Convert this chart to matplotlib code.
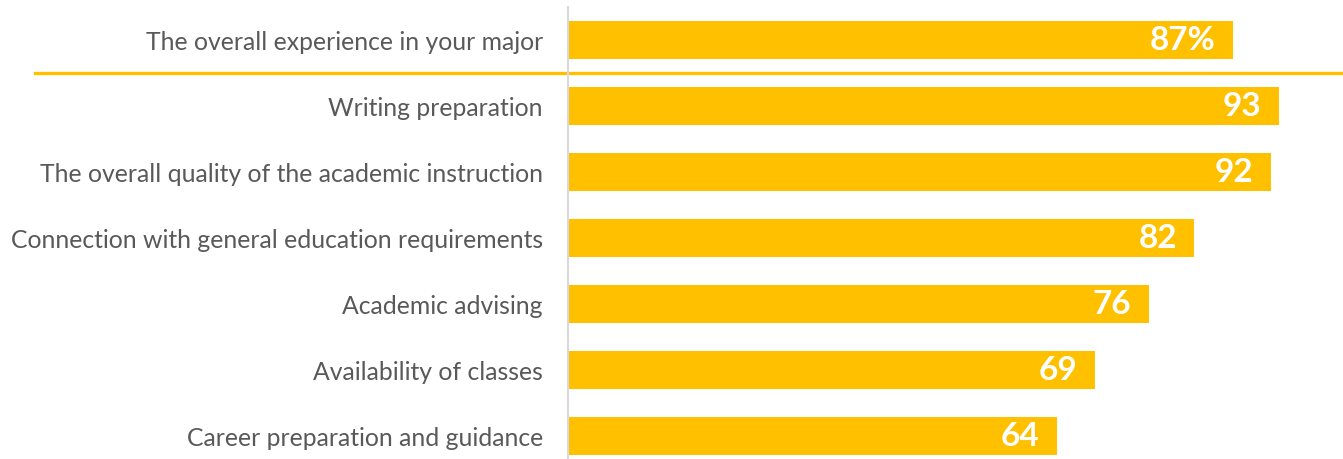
import matplotlib.pyplot as plt

# data
categories = [
    "The overall experience in your major",
    "Writing preparation",
    "The overall quality of the academic instruction",
    "Connection with general education requirements",
    "Academic advising",
    "Availability of classes",
    "Career preparation and guidance",
]
values = [87, 93, 92, 82, 76, 69, 64]
value_labels = ["87%", "93", "92", "82", "76", "69", "64"]

GOLD = "#FFC000"
GREY_TEXT = "#595959"

plt.rcParams["font.family"] = ["Lato", "DejaVu Sans"]

fig = plt.figure(figsize=(13.43, 4.6), dpi=100)
ax = fig.add_axes([568 / 1343, 0, 764 / 1343, 452 / 460])

pos = list(range(len(categories)))
ax.barh(pos, values, height=0.58, color=GOLD)

for p, v, lab in zip(pos, values, value_labels):
    ax.annotate(lab, (v, p), xytext=(-12.5, 0), textcoords="offset points",
                ha="right", va="center", color="white", fontsize=24,
                fontweight="bold")

ax.set_xlim(0, 100)
ax.set_ylim(6.35, -0.5)
ax.set_yticks(pos)
ax.set_yticklabels(categories, fontsize=17.8, color=GREY_TEXT)
ax.tick_params(axis="y", length=0, pad=18)
ax.set_xticks([])

for s in ["top", "right", "bottom"]:
    ax.spines[s].set_visible(False)
ax.spines["left"].set_color("#D9D9D9")
ax.spines["left"].set_linewidth(1.5)

# separator between the overall item and the rest
ax.axhline(0.5, xmin=(35 - 568) / 764, xmax=(1343 - 568) / 764,
           color=GOLD, linewidth=2.4, clip_on=False)

fig.savefig("out.png", dpi=100)
